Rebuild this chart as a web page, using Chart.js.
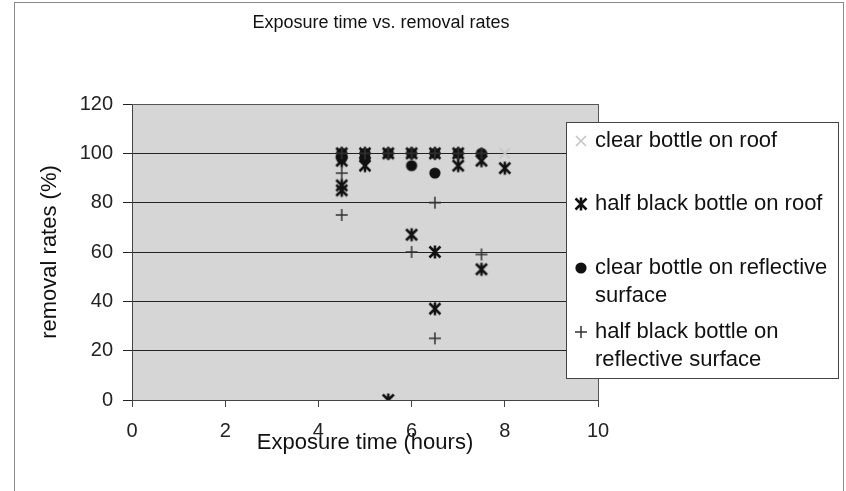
<!DOCTYPE html>
<html lang="en">
<head>
    <meta charset="UTF-8">
    <title>Exposure time vs. removal rates</title>
    <script src="https://cdn.jsdelivr.net/npm/chart.js"></script>
    <style>
        body { margin: 0; background: #fff; }
        canvas { display: block; }
    </style>
</head>
<body>
    <canvas id="removalChart" width="846" height="491"></canvas>

    <script>
        // exposure time (hours) and removal rate (%) for each bottle setup
        const clearRoofHours = [4.5, 5, 5.5, 6, 6.5, 7, 7.5, 8];
        const clearRoofRemoval = [100, 100, 100, 100, 100, 100, 97, 100];

        const halfRoofHours = [4.5, 4.5, 4.5, 4.5, 5, 5, 5.5, 5.5, 6, 6, 6.5, 6.5, 6.5, 7, 7, 7.5, 7.5, 8];
        const halfRoofRemoval = [100, 97, 87, 85, 100, 95, 100, 0, 100, 67, 100, 60, 37, 100, 95, 97, 53, 94];

        const clearReflHours = [4.5, 4.5, 5, 5, 5.5, 6, 6, 6.5, 6.5, 7, 7.5];
        const clearReflRemoval = [100, 98, 100, 98, 100, 100, 95, 100, 92, 100, 100];

        const halfReflHours = [4.5, 4.5, 4.5, 5, 5.5, 6, 6, 6.5, 6.5, 6.5, 7, 7.5, 7.5];
        const halfReflRemoval = [100, 92, 75, 100, 100, 100, 60, 100, 80, 25, 100, 100, 59];

        const seriesNames = [
            ['clear bottle on roof'],
            ['half black bottle on roof'],
            ['clear bottle on reflective', 'surface'],
            ['half black bottle on', 'reflective surface']
        ];

        const xTicks = [0, 2, 4, 6, 8, 10];
        const yTicks = [0, 20, 40, 60, 80, 100, 120];

        const FONT = '"Liberation Sans", Arial, sans-serif';

        function zip(xs, ys) {
            return xs.map((x, i) => ({ x: x, y: ys[i] }));
        }

        // marker images, shared by the plot and the legend
        function makeMarker(kind) {
            const c = document.createElement('canvas');
            c.width = 16;
            c.height = 16;
            const g = c.getContext('2d');
            g.translate(8, 8);
            g.lineCap = 'butt';
            if (kind === 'x') {
                g.strokeStyle = '#c4c4c4';
                g.lineWidth = 1.6;
                g.beginPath();
                g.moveTo(-5, -5); g.lineTo(5, 5);
                g.moveTo(5, -5); g.lineTo(-5, 5);
                g.stroke();
            } else if (kind === 'asterisk') {
                g.strokeStyle = '#111';
                g.lineWidth = 2.5;
                g.beginPath();
                g.moveTo(-5.5, -5.5); g.lineTo(5.5, 5.5);
                g.moveTo(5.5, -5.5); g.lineTo(-5.5, 5.5);
                g.moveTo(0, -6.5); g.lineTo(0, 6.5);
                g.stroke();
            } else if (kind === 'dot') {
                g.fillStyle = '#111';
                g.beginPath();
                g.arc(0, 0, 5.6, 0, Math.PI * 2);
                g.fill();
            } else {
                g.strokeStyle = '#333';
                g.lineWidth = 1.5;
                g.beginPath();
                g.moveTo(-6, 0); g.lineTo(6, 0);
                g.moveTo(0, -6); g.lineTo(0, 6);
                g.stroke();
            }
            return c;
        }

        const markers = [makeMarker('x'), makeMarker('asterisk'), makeMarker('dot'), makeMarker('plus')];

        // white page, outer frame, grey plot background
        const framePlugin = {
            id: 'frame',
            beforeDraw(chart) {
                const ctx = chart.ctx;
                const a = chart.chartArea;
                ctx.save();
                ctx.fillStyle = '#fff';
                ctx.fillRect(0, 0, chart.width, chart.height);
                ctx.strokeStyle = '#8a8a8a';
                ctx.lineWidth = 1;
                ctx.strokeRect(14.5, 2.5, 829, 520);
                ctx.fillStyle = '#d6d6d6';
                ctx.fillRect(a.left, a.top, a.right - a.left, a.bottom - a.top);
                ctx.restore();
            },
            afterDraw(chart) {
                const ctx = chart.ctx;
                const a = chart.chartArea;
                ctx.save();
                // top and right edge of the plot
                ctx.strokeStyle = '#555';
                ctx.lineWidth = 1;
                ctx.beginPath();
                ctx.moveTo(a.left, Math.round(a.top) + 0.5);
                ctx.lineTo(a.right, Math.round(a.top) + 0.5);
                ctx.moveTo(Math.round(a.right) + 0.5, a.top);
                ctx.lineTo(Math.round(a.right) + 0.5, a.bottom);
                ctx.stroke();

                // chart title
                ctx.fillStyle = '#111';
                ctx.font = '18px ' + FONT;
                ctx.textAlign = 'center';
                ctx.textBaseline = 'alphabetic';
                ctx.fillText('Exposure time vs. removal rates', 381, 28);

                // legend box
                const lx = 566, ly = 122, lw = 272, lh = 256;
                ctx.fillStyle = '#fff';
                ctx.fillRect(lx, ly, lw, lh);
                ctx.strokeStyle = '#444';
                ctx.strokeRect(lx + 0.5, ly + 0.5, lw, lh);

                const rows = [141, 204, 268, 332];
                ctx.font = '22px ' + FONT;
                ctx.textAlign = 'left';
                ctx.textBaseline = 'middle';
                ctx.fillStyle = '#111';
                seriesNames.forEach((lines, i) => {
                    ctx.drawImage(markers[i], 581 - 8, rows[i] - 8);
                    lines.forEach((t, j) => ctx.fillText(t, 595, rows[i] + j * 28));
                });
                ctx.restore();
            }
        };

        // later series are painted over earlier ones
        function pointSet(label, xs, ys, i) {
            return {
                label: label,
                data: zip(xs, ys),
                pointStyle: markers[i],
                pointRadius: 6,
                showLine: false,
                order: seriesNames.length - i
            };
        }

        new Chart(document.getElementById('removalChart'), {
            type: 'scatter',
            data: {
                datasets: [
                    pointSet(seriesNames[0].join(' '), clearRoofHours, clearRoofRemoval, 0),
                    pointSet(seriesNames[1].join(' '), halfRoofHours, halfRoofRemoval, 1),
                    pointSet(seriesNames[2].join(' '), clearReflHours, clearReflRemoval, 2),
                    pointSet(seriesNames[3].join(' '), halfReflHours, halfReflRemoval, 3)
                ]
            },
            options: {
                responsive: false,
                animation: false,
                layout: { padding: { left: 0, top: 104, right: 248, bottom: 35 } },
                plugins: {
                    legend: { display: false },
                    tooltip: { enabled: false },
                    title: { display: false }
                },
                scales: {
                    x: {
                        type: 'linear',
                        min: xTicks[0],
                        max: xTicks[xTicks.length - 1],
                        afterBuildTicks(scale) { scale.ticks = xTicks.map(v => ({ value: v })); },
                        afterFit(scale) { scale.height = 56; },
                        ticks: { color: '#222', font: { family: FONT, size: 20 }, padding: 12 },
                        grid: { drawOnChartArea: false, tickLength: 7, color: '#444' },
                        border: { color: '#444' },
                        title: {
                            display: true,
                            text: 'Exposure time (hours)',
                            color: '#111',
                            font: { family: FONT, size: 22 },
                            padding: 0
                        }
                    },
                    y: {
                        min: yTicks[0],
                        max: yTicks[yTicks.length - 1],
                        afterBuildTicks(scale) { scale.ticks = yTicks.map(v => ({ value: v })); },
                        afterFit(scale) { scale.width = 132; },
                        ticks: { color: '#222', font: { family: FONT, size: 20 }, padding: 10 },
                        grid: { color: '#222', tickLength: 9 },
                        border: { color: '#444' },
                        title: {
                            display: true,
                            text: 'removal rates (%)',
                            color: '#111',
                            font: { family: FONT, size: 22 },
                            padding: { top: 37, bottom: 0 }
                        }
                    }
                }
            },
            plugins: [framePlugin]
        });
    </script>
</body>
</html>
